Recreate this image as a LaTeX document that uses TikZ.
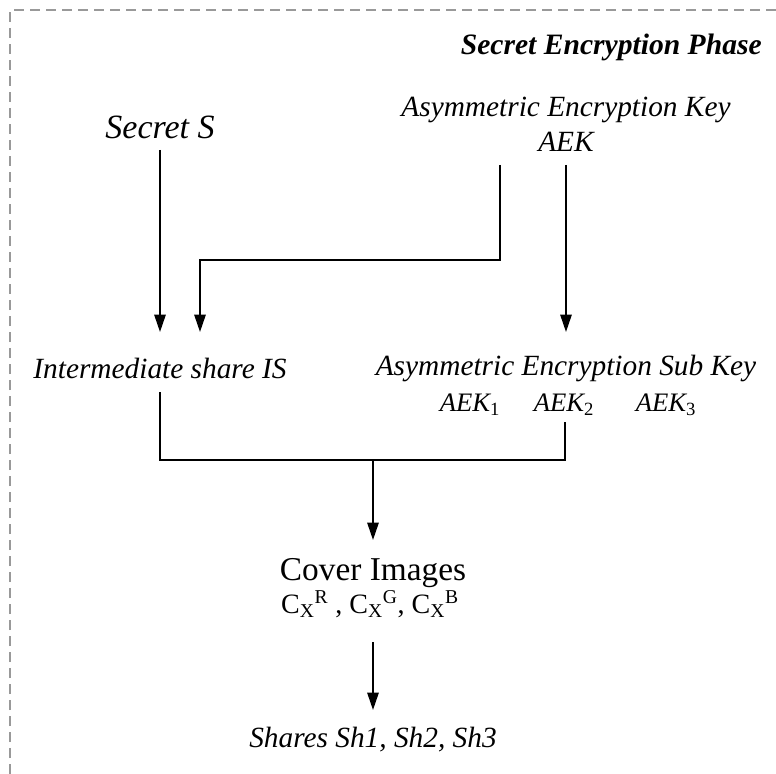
\documentclass[tikz,border=0pt]{standalone}
\usepackage{fontspec}
\setmainfont{Liberation Serif}
\usetikzlibrary{arrows.meta}
\tikzset{
  lbl/.style={inner sep=0pt, font=\itshape\fontsize{22}{24}\selectfont},
  sublbl/.style={inner sep=0pt, font=\itshape\fontsize{20}{22}\selectfont},
  big/.style={inner sep=0pt, font=\itshape\fontsize{25.5}{28}\selectfont},
  flow/.style={line width=1.3pt, -{Triangle[length=13pt,width=8.5pt]}},
  wire/.style={line width=1.3pt},
  frame/.style={draw=gray!80, line width=1.4pt, dash pattern=on 7.5pt off 4.5pt}
}
\begin{document}
\begin{tikzpicture}[x=0.75pt,y=-0.75pt]
\useasboundingbox (0,0) rectangle (776,774);
% dashed outline of the phase
\draw[frame] (10,774) -- (10,10) -- (776,10);

\node[anchor=east, inner sep=0pt, font=\bfseries\itshape\fontsize{22.2}{24}\selectfont] (title) at (762,47) {Secret Encryption Phase};

\node[big] (secret) at (160,127) {Secret S};
\node[lbl] (aek) at (566,110) {Asymmetric Encryption Key};
\node[lbl] (aekname) at (566,142) {AEK};

\coordinate (s1) at (160,150);
\coordinate (s2) at (160,332);
\coordinate (k0) at (500,165);
\coordinate (k1) at (500,260);
\coordinate (k2) at (200,260);
\coordinate (k3) at (200,332);
\coordinate (a1) at (566,165);
\coordinate (a2) at (566,332);

\draw[flow] (s1) -- (s2);
\draw[flow] (k0) -- (k1) -- (k2) -- (k3);
\draw[flow] (a1) -- (a2);

\node[lbl] (is) at (160,368) {Intermediate share IS};
\node[lbl] (sub) at (566,368) {Asymmetric Encryption Sub Key};
\node[sublbl] (sk1) at (470,405) {AEK\textsubscript{\upshape 1}};
\node[sublbl] (sk2) at (564,405) {AEK\textsubscript{\upshape 2}};
\node[sublbl] (sk3) at (666,405) {AEK\textsubscript{\upshape 3}};

\coordinate (j1) at (160,392);
\coordinate (j2) at (160,460);
\coordinate (j3) at (565,460);
\coordinate (j4) at (565,422);
\coordinate (m1) at (373,460);
\coordinate (m2) at (373,540);
\draw[wire] (j1) -- (j2) -- (j3) -- (j4);
\draw[flow] (m1) -- (m2);

\node[inner sep=0pt, font=\fontsize{25}{27}\selectfont] (cover) at (373,573) {Cover Images};
\node[inner sep=0pt, font=\fontsize{21}{23}\selectfont] (chan) at (370,604)
  {C\textsubscript{X}\textsuperscript{R} , C\textsubscript{X}\textsuperscript{G}, C\textsubscript{X}\textsuperscript{B}};

\coordinate (c1) at (373,642);
\coordinate (c2) at (373,710);
\draw[flow] (c1) -- (c2);

\node[lbl] (shares) at (373,740) {Shares Sh1, Sh2, Sh3};
\end{tikzpicture}
\end{document}
